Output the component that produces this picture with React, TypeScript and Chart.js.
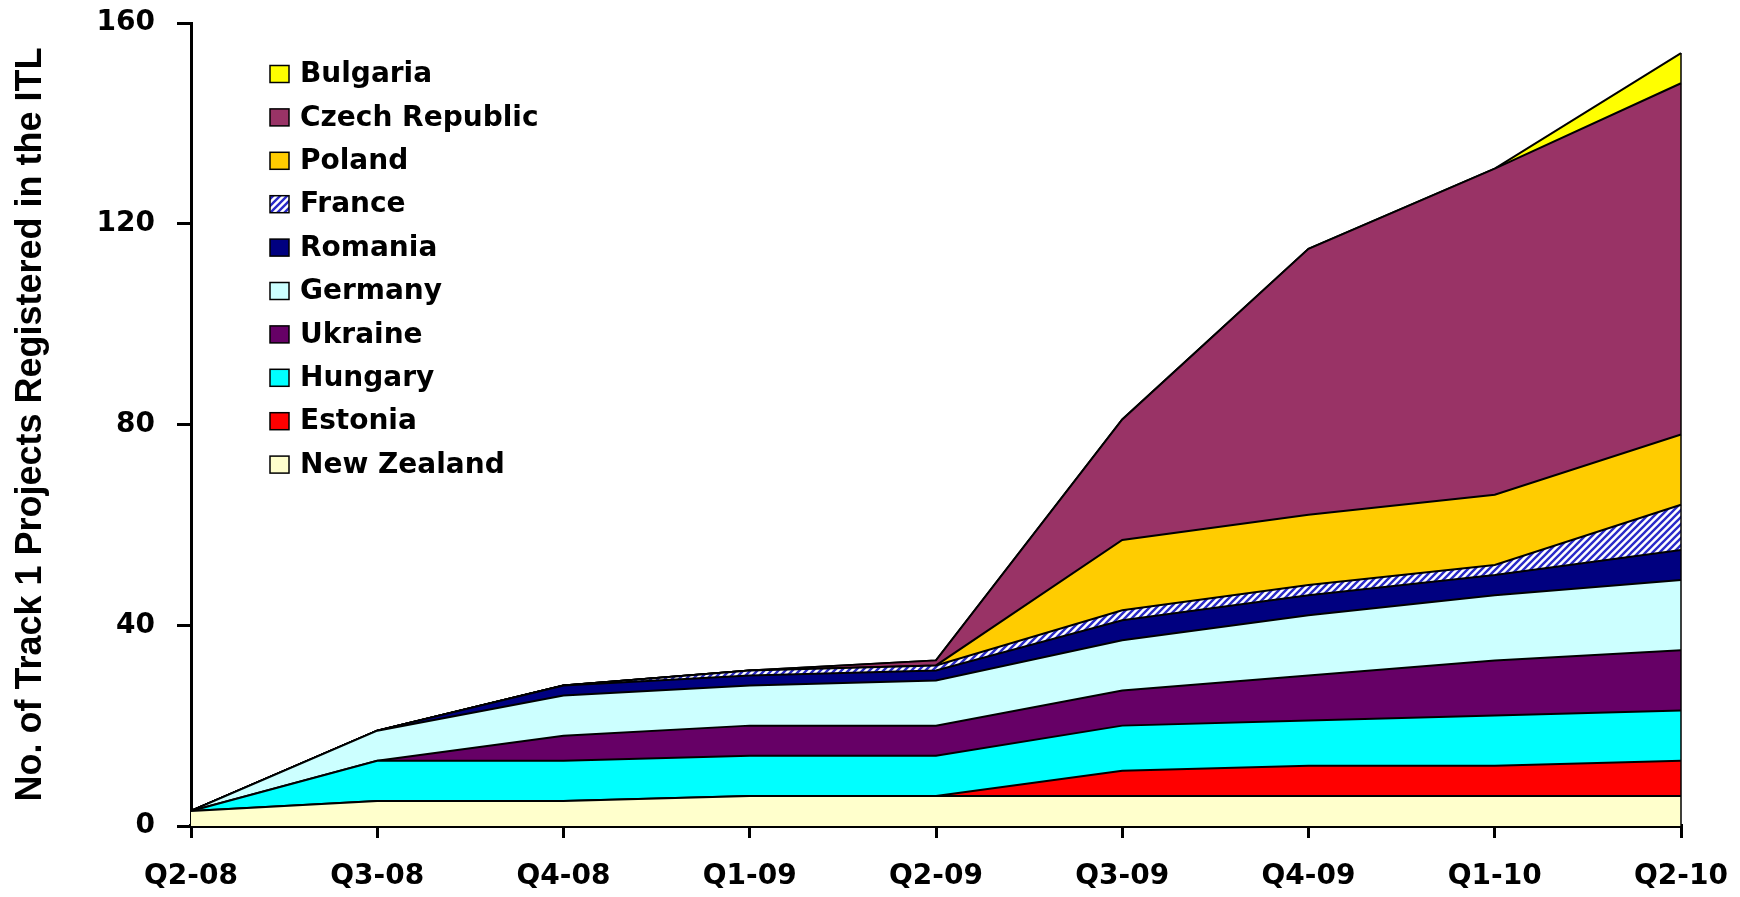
import React, { useEffect, useRef } from 'react';
import { Chart, registerables } from 'chart.js';

Chart.register(...registerables);

// ---- Data ----
const quarters = ['Q2-08', 'Q3-08', 'Q4-08', 'Q1-09', 'Q2-09', 'Q3-09', 'Q4-09', 'Q1-10', 'Q2-10'];

const newZealand = [3, 5, 5, 6, 6, 6, 6, 6, 6];
const estonia = [0, 0, 0, 0, 0, 5, 6, 6, 7];
const hungary = [0, 8, 8, 8, 8, 9, 9, 10, 10];
const ukraine = [0, 0, 5, 6, 6, 7, 9, 11, 12];
const germany = [0, 6, 8, 8, 9, 10, 12, 13, 14];
const romania = [0, 0, 2, 2, 2, 4, 4, 4, 6];
const france = [0, 0, 0, 1, 1, 2, 2, 2, 9];
const poland = [0, 0, 0, 0, 0, 14, 14, 14, 14];
const czechRepublic = [0, 0, 0, 0, 1, 24, 53, 65, 70];
const bulgaria = [0, 0, 0, 0, 0, 0, 0, 0, 6];

const yTickValues = [0, 40, 80, 120, 160];
const yTitle = 'No. of Track 1 Projects Registered in the ITL';

function makeHatch(): CanvasPattern | string {
  const c = document.createElement('canvas');
  const s = 7;
  c.width = s;
  c.height = s;
  const g = c.getContext('2d');
  if (!g) return '#3333cc';
  g.fillStyle = '#ffffff';
  g.fillRect(0, 0, s, s);
  g.strokeStyle = '#2a2ac8';
  g.lineWidth = 2.4;
  g.beginPath();
  g.moveTo(-1, s + 1);
  g.lineTo(s + 1, -1);
  g.moveTo(-4, 4);
  g.lineTo(4, -4);
  g.moveTo(s - 4, s + 4);
  g.lineTo(s + 4, s - 4);
  g.stroke();
  return g.createPattern(c, 'repeat') || '#3333cc';
}

const insideLegend = {
  id: 'insideLegend',
  afterDraw(chart: any) {
    const ctx = chart.ctx as CanvasRenderingContext2D;
    const ds = chart.data.datasets;
    ctx.save();
    ctx.font = 'bold 28px "DejaVu Sans"';
    ctx.textBaseline = 'middle';
    ctx.textAlign = 'left';
    const n = ds.length;
    for (let i = 0; i < n; i++) {
      const d = ds[n - 1 - i];
      const y = 74 + i * 43.4;
      ctx.fillStyle = d.backgroundColor;
      ctx.fillRect(270, y - 8.5, 19, 17);
      ctx.strokeStyle = '#000';
      ctx.lineWidth = 1.5;
      ctx.strokeRect(270, y - 8.5, 19, 17);
      ctx.fillStyle = '#000';
      ctx.fillText(d.label, 300, y + 1);
    }
    ctx.restore();
  },
};

const rightEdge = {
  id: 'rightEdge',
  afterDatasetsDraw(chart: any) {
    const xs = chart.scales.x;
    const ys = chart.scales.y;
    const last = quarters.length - 1;
    let total = 0;
    chart.data.datasets.forEach((d: any) => {
      total += d.data[last];
    });
    const ctx = chart.ctx as CanvasRenderingContext2D;
    const x = xs.getPixelForValue(last);
    ctx.save();
    ctx.strokeStyle = '#000';
    ctx.lineWidth = 1.5;
    ctx.beginPath();
    ctx.moveTo(x, ys.getPixelForValue(0));
    ctx.lineTo(x, ys.getPixelForValue(total));
    ctx.stroke();
    ctx.restore();
  },
};

export default function App() {
  const ref = useRef<HTMLCanvasElement>(null);

  useEffect(() => {
    if (!ref.current) return;
    const hatch = makeHatch();
    const series = [
      { label: 'New Zealand', data: newZealand, color: '#FFFFCC' },
      { label: 'Estonia', data: estonia, color: '#FF0000' },
      { label: 'Hungary', data: hungary, color: '#00FFFF' },
      { label: 'Ukraine', data: ukraine, color: '#660066' },
      { label: 'Germany', data: germany, color: '#CCFFFF' },
      { label: 'Romania', data: romania, color: '#000080' },
      { label: 'France', data: france, color: hatch },
      { label: 'Poland', data: poland, color: '#FFCC00' },
      { label: 'Czech Republic', data: czechRepublic, color: '#993366' },
      { label: 'Bulgaria', data: bulgaria, color: '#FFFF00' },
    ];
    const tickFontX = { family: '"DejaVu Sans"', weight: 'bold' as const, size: 28 };
    const tickFontY = { family: '"DejaVu Sans"', weight: 'bold' as const, size: 28 };
    const chart = new Chart(ref.current, {
      type: 'line',
      data: {
        labels: quarters,
        datasets: series.map((s, i) => ({
          label: s.label,
          data: s.data,
          backgroundColor: s.color as any,
          borderColor: '#000000',
          borderWidth: 2,
          fill: i === 0 ? 'origin' : '-1',
          pointRadius: 0,
          tension: 0,
        })),
      },
      options: {
        animation: false,
        responsive: false,
        maintainAspectRatio: false,
        layout: { padding: { top: 23, right: 59, left: 0, bottom: 0 } },
        plugins: {
          legend: { display: false },
          tooltip: { enabled: false },
        },
        scales: {
          x: {
            offset: false,
            grid: {
              display: true,
              drawOnChartArea: false,
              drawTicks: true,
              tickLength: 12,
              color: '#000',
              lineWidth: 3,
            },
            border: { display: true, color: '#000', width: 4 },
            ticks: { color: '#000', font: tickFontX, padding: 22, maxRotation: 0, autoSkip: false },
            afterFit: (s: any) => {
              s.height = 71;
              s.paddingLeft = 0;
              s.paddingRight = 0;
            },
          },
          y: {
            stacked: true,
            min: 0,
            max: 160,
            afterBuildTicks: (s: any) => {
              s.ticks = yTickValues.map((v) => ({ value: v }));
            },
            grid: {
              display: true,
              drawOnChartArea: false,
              drawTicks: true,
              tickLength: 14,
              color: '#000',
              lineWidth: 3,
            },
            border: { display: true, color: '#000', width: 3 },
            ticks: { color: '#000', font: tickFontY, padding: 22 },
            title: {
              display: true,
              text: yTitle,
              color: '#000',
              font: { family: '"Liberation Sans", Arial', weight: 'bold', size: 36 },
              padding: { top: 9, bottom: 0 },
            },
            afterFit: (s: any) => {
              s.width = 191;
              s.paddingTop = 0;
              s.paddingBottom = 0;
            },
          },
        },
      },
      plugins: [rightEdge, insideLegend],
    });
    return () => chart.destroy();
  }, []);

  return (
    <div style={{ position: 'fixed', left: 0, top: 0, width: 1740, height: 897, background: '#fff' }}>
      <canvas ref={ref} width={1740} height={897} style={{ display: 'block', width: 1740, height: 897 }} />
    </div>
  );
}
